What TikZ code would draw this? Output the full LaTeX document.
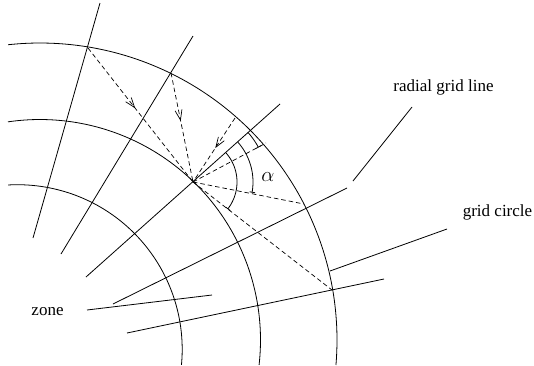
\documentclass[tikz,border=0pt]{standalone}
\usepackage{fontspec}
\setmainfont{Liberation Serif}
\usetikzlibrary{arrows.meta,decorations.markings}
\begin{document}
\begin{tikzpicture}[x=1pt,y=-1pt,line width=0.8pt,
  ray/.style={dash pattern=on 4.5pt off 3pt,line width=0.7pt},
  midarrow/.style={postaction={decorate},decoration={markings,
     mark=at position #1 with {\arrow{Straight Barb[length=10pt,width=7pt,line width=0.7pt]}}}},
  anglearc/.style={line width=0.8pt},
  lbl/.style={font=\fontsize{17}{20}\selectfont,inner sep=0pt,anchor=base}]
\useasboundingbox (0,0) rectangle (534,365);

% grid circles
\draw plot[domain=-93.3:5.4,samples=90,smooth] ({17.5+164.7*cos(\x)},{349.4+164.7*sin(\x)});
\draw plot[domain=-98.35:6.5,samples=100,smooth] ({40+220.5*cos(\x)},{340+220.5*sin(\x)});
\draw plot[domain=-96.15:4.83,samples=120,smooth] ({40+297*cos(\x)},{340+297*sin(\x)});

% radial grid lines
\coordinate (a1) at (100,3);   \coordinate (b1) at (33,238);
\coordinate (a2) at (193,36);  \coordinate (b2) at (61,254);
\coordinate (a3) at (280,104); \coordinate (b3) at (86,277);
\coordinate (a4) at (347,188); \coordinate (b4) at (113,304);
\coordinate (a6) at (384,279); \coordinate (b6) at (127,333);
\draw (a1) -- (b1);
\draw (a2) -- (b2);
\draw (a3) -- (b3);
\draw (a4) -- (b4);
\draw (a6) -- (b6);

% focal point and rays
\coordinate (F) at (193,182);
\coordinate (p1) at (88,48);
\coordinate (p2) at (171,73);
\coordinate (p3) at (235,118);
\coordinate (q1) at (266,143);
\coordinate (q2) at (304,204);
\coordinate (q3) at (332,290);
\draw[ray,midarrow=0.45] (p1) -- (F);
\draw[ray,midarrow=0.44] (p2) -- (F);
\draw[ray,midarrow=0.47] (p3) -- (F);
\draw[ray] (F) -- (q1);
\draw[ray] (F) -- (q2);
\draw[ray] (F) -- (q3);

% angle marks
\draw[anglearc] plot[domain=-41.9:-28.1,samples=20,smooth] ({193+74*cos(\x)},{182+74*sin(\x)});
\draw[anglearc] ({193+71.5*cos(-28.1)},{182+71.5*sin(-28.1)}) -- ({193+77*cos(-28.1)},{182+77*sin(-28.1)});
\draw[anglearc] plot[domain=-41.9:9.8,samples=40,smooth] ({193+60*cos(\x)},{182+60*sin(\x)});
\draw[anglearc] ({193+57.5*cos(9.8)},{182+57.5*sin(9.8)}) -- ({193+63*cos(9.8)},{182+63*sin(9.8)});
\draw[anglearc] plot[domain=-41.9:37.5,samples=50,smooth] ({193+44*cos(\x)},{182+44*sin(\x)});
\draw[anglearc] ({193+41.5*cos(37.5)},{182+41.5*sin(37.5)}) -- ({193+47*cos(37.5)},{182+47*sin(37.5)});
\node[font=\fontsize{21}{24}\selectfont,inner sep=0pt] (alpha) at (268,177) {$\alpha$};

% labels and leaders
\node[lbl] (zone) at (47.5,315) {zone};
\node[lbl] (rgl) at (443.5,91) {radial grid line};
\node[lbl] (gc) at (497.5,216) {grid circle};
\coordinate (z1) at (87,310);   \coordinate (z2) at (212,295);
\coordinate (r1) at (412,107);  \coordinate (r2) at (353,181);
\coordinate (g1) at (447,229);  \coordinate (g2) at (330,271);
\draw (z1) -- (z2);
\draw (r1) -- (r2);
\draw (g1) -- (g2);
\end{tikzpicture}
\end{document}
